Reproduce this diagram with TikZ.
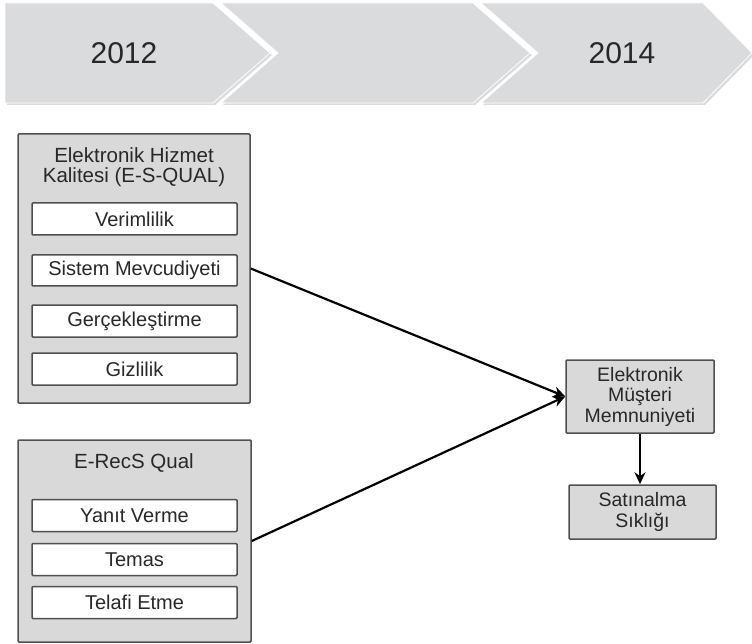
\documentclass[tikz,border=0pt]{standalone}
\usepackage{fontspec}
\setmainfont{Liberation Sans}
\usepackage{xcolor}
\usetikzlibrary{arrows.meta, positioning}

\definecolor{chevgray}{RGB}{218,219,221}
\definecolor{boxgray}{RGB}{217,217,217}
\definecolor{edgegray}{RGB}{80,80,80}
\definecolor{textgray}{RGB}{40,40,40}

\tikzset{
    outerbox/.style={draw=edgegray, line width=1.5pt, fill=boxgray, rounded corners=1pt},
    innerbox/.style={draw=edgegray, line width=1.5pt, fill=white, rounded corners=1pt,
        minimum width=205, minimum height=32, inner sep=0pt,
        font=\fontsize{20}{21}\selectfont, text=textgray},
    resultbox/.style={draw=edgegray, line width=1.5pt, fill=boxgray, rounded corners=1pt,
        inner sep=0pt, align=center, font=\fontsize{19.5}{20.5}\selectfont, text=textgray},
    titletext/.style={align=center, font=\fontsize{20.5}{20}\selectfont, text=textgray},
    yeartext/.style={font=\fontsize{30}{32}\selectfont, text=textgray},
    link/.style={-{Stealth[length=12pt, width=11pt]}, line width=2.2pt, black}
}

\begin{document}
\begin{tikzpicture}[x=1pt, y=-1pt]
    \useasboundingbox (0,0) rectangle (752,644);

    % zaman okları
    \fill[gray!28] (7,5) -- (215,5) -- (272,55) -- (215,105) -- (7,105) -- cycle;
    \fill[gray!28] (223,5) -- (475,5) -- (532,55) -- (475,105) -- (223,105) -- (280,55) -- cycle;
    \fill[gray!28] (483,5) -- (705,5) -- (754,55) -- (705,105) -- (483,105) -- (540,55) -- cycle;
    \filldraw[fill=chevgray, draw=white, line width=0.8pt] (5,3) -- (213,3) -- (270,53) -- (213,103) -- (5,103) -- cycle;
    \filldraw[fill=chevgray, draw=white, line width=0.8pt] (221,3) -- (473,3) -- (530,53) -- (473,103) -- (221,103) -- (278,53) -- cycle;
    \filldraw[fill=chevgray, draw=white, line width=0.8pt] (481,3) -- (703,3) -- (752,53) -- (703,103) -- (481,103) -- (538,53) -- cycle;
    \node[yeartext] (y2012) at (124,53) {2012};
    \node[yeartext] (y2014) at (622,53) {2014};

    % E-S-QUAL
    \node[outerbox, minimum width=232, minimum height=269] (esqual) at (134,268.5) {};
    \node[titletext] (esqualT) at (134,167) {Elektronik Hizmet\\Kalitesi (E-S-QUAL)};
    \node[innerbox] (verim) at (134.5,219) {Verimlilik};
    \node[innerbox, minimum height=31] (sistem) at (134.5,270.5) {Sistem Mevcudiyeti};
    \node[innerbox] (gercek) at (134.5,321) {Gerçekleştirme};
    \node[innerbox] (gizli) at (134.5,369) {Gizlilik};

    % E-RecS Qual
    \node[outerbox, minimum width=233, minimum height=202] (erecs) at (134.5,541) {};
    \node[titletext] (erecsT) at (134,463) {E-RecS Qual};
    \node[innerbox] (yanit) at (134.5,515.5) {Yanıt Verme};
    \node[innerbox] (temas) at (134.5,559.5) {Temas};
    \node[innerbox] (telafi) at (134.5,602.5) {Telafi Etme};

    % sonuç kutuları
    \node[resultbox, minimum width=148, minimum height=73] (memnun) at (640,396.5) {Elektronik\\Müşteri\\Memnuniyeti};
    \node[resultbox, minimum width=147, minimum height=54] (satin) at (642.5,512) {Satınalma\\Sıklığı};

    % oklar
    \draw[link] (esqual.east) -- (memnun.west);
    \draw[link] (erecs.east) -- (memnun.west);
    \draw[link] (memnun.south) -- (memnun.south |- satin.north);
\end{tikzpicture}
\end{document}
